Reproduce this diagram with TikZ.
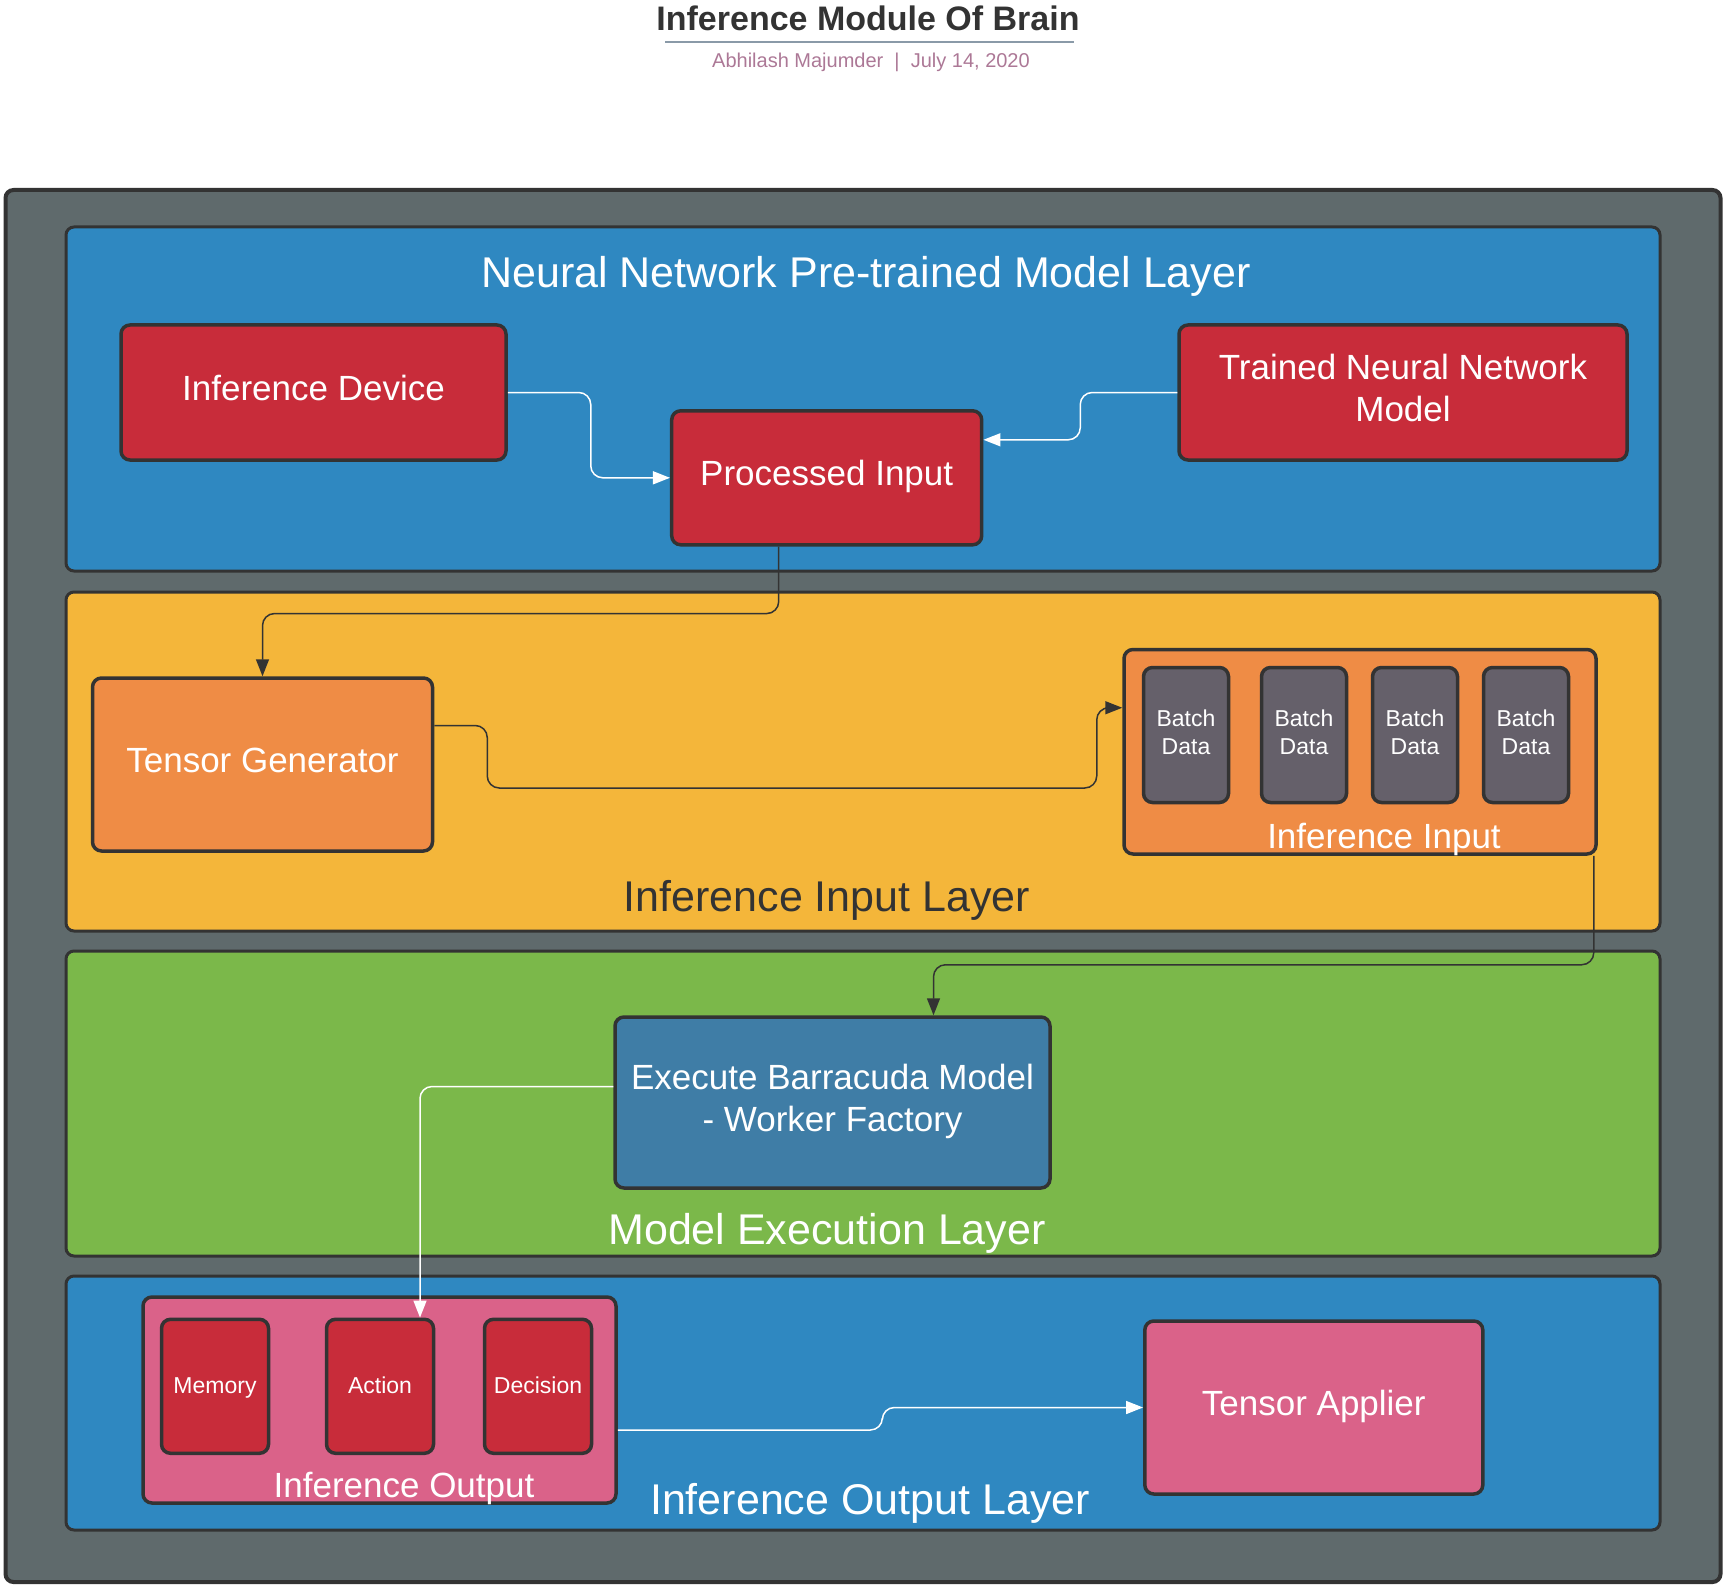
\documentclass[tikz,border=0pt]{standalone}
\usepackage{fontspec}
\setmainfont{Liberation Sans}
\usetikzlibrary{arrows.meta,positioning}

\definecolor{panelgray}{HTML}{5F6A6C}
\definecolor{edgegray}{HTML}{333333}
\definecolor{tierblue}{HTML}{2F88C1}
\definecolor{tieryellow}{HTML}{F4B63A}
\definecolor{tiergreen}{HTML}{7BB84A}
\definecolor{modred}{HTML}{C82C3A}
\definecolor{modpink}{HTML}{DA6289}
\definecolor{modorange}{HTML}{EF8C45}
\definecolor{batchgray}{HTML}{65606A}
\definecolor{execblue}{HTML}{3F7DA6}
\definecolor{subtitlec}{HTML}{AC7896}
\definecolor{rulec}{HTML}{8A9AA8}

\begin{document}
\begin{tikzpicture}[
    x=1pt, y=-1pt,
    node distance=113pt,
    tier/.style={draw=edgegray, line width=3pt, rounded corners=8pt, inner sep=0pt},
    tiertitle/.style={anchor=base, inner sep=0pt, font=\fontsize{43}{50}\selectfont},
    module/.style={draw=edgegray, line width=3.5pt, rounded corners=9pt, inner sep=0pt,
      text=white, align=center, text depth=9pt, font=\fontsize{35}{42}\selectfont},
    batch/.style={module, fill=batchgray, minimum width=85pt, minimum height=135pt,
      text depth=6pt, font=\fontsize{23}{28.6}\selectfont},
    outcell/.style={module, fill=modred, minimum width=107pt, minimum height=134pt,
      text depth=2pt, font=\fontsize{23}{28}\selectfont},
    flow/.style={-{Triangle[length=17pt,width=13pt]}, line width=1.5pt, rounded corners=12pt},
    whiteflow/.style={flow, draw=white},
    darkflow/.style={flow, draw=edgegray},
    ]
    \useasboundingbox (0,0) rectangle (1726,1586);

    % title block
    \node[anchor=base, inner sep=0pt, text=edgegray, font=\fontsize{34}{40}\selectfont\bfseries]
      (title) at (868,31) {Inference Module Of Brain};
    \draw[rulec, line width=1.5pt] (665,42) -- (1074,42);
    \node[anchor=base, inner sep=0pt, text=subtitlec, font=\fontsize{20}{24}\selectfont]
      (byline) at (871,68) {Abhilash Majumder\ \ |\ \ July 14, 2020};

    % frame and layers
    \node[tier, line width=4pt, fill=panelgray, minimum width=1715pt, minimum height=1392pt] (frame) at (863,886) {};
    \node[tier, fill=tierblue, minimum width=1594pt, minimum height=344pt] (nnlayer) at (863,399) {};
    \node[tier, fill=tieryellow, minimum width=1594pt, minimum height=339pt] (inlayer) at (863,761.5) {};
    \node[tier, fill=tiergreen, minimum width=1594pt, minimum height=305pt] (exlayer) at (863,1103.5) {};
    \node[tier, fill=tierblue, minimum width=1594pt, minimum height=254pt] (outlayer) at (863,1403) {};

    \node[tiertitle, text=white] (nntitle) at (866,288) {Neural Network Pre-trained Model Layer};
    \node[tiertitle, text=edgegray] (intitle) at (827,911) {Inference Input Layer};
    \node[tiertitle, text=white] (extitle) at (827,1244) {Model Execution Layer};
    \node[tiertitle, text=white] (outtitle) at (870,1514) {Inference Output Layer};

    % pre-trained model layer
    \node[module, fill=modred, minimum width=385pt, minimum height=135pt] (dev) at (313.5,392.5) {Inference Device};
    \node[module, fill=modred, minimum width=310pt, minimum height=134pt] (pi) at (826.7,477.8) {Processed Input};
    \node[module, fill=modred, minimum width=448pt, minimum height=135pt] (tnn) at (1403,392.5) {Trained Neural Network\\Model};

    % input layer
    \node[module, fill=modorange, minimum width=340pt, minimum height=173pt] (tg) at (262.5,764.5) {Tensor Generator};
    \node[module, fill=modorange, minimum width=472pt, minimum height=204.5pt] (ii) at (1360,751.75) {};
    \node[anchor=base, inner sep=0pt, text=white, font=\fontsize{35}{42}\selectfont] (iilabel) at (1384,848) {Inference Input};
    \node[batch] (b1) at (1186,735) {Batch\\Data};
    \node[batch, right of=b1, node distance=118pt] (b2) {Batch\\Data};
    \node[batch, right of=b2, node distance=111pt] (b3) {Batch\\Data};
    \node[batch, right of=b3, node distance=111pt] (b4) {Batch\\Data};

    % execution layer
    \node[module, fill=execblue, minimum width=435pt, minimum height=171pt] (ex) at (832.5,1102.5) {Execute Barracuda Model\\- Worker Factory};

    % output layer
    \node[module, fill=modpink, minimum width=473pt, minimum height=206pt] (io) at (379.5,1400) {};
    \node[anchor=base, inner sep=0pt, text=white, font=\fontsize{35}{42}\selectfont] (iolabel) at (404,1497) {Inference Output};
    \node[outcell] (mem) at (215,1386.3) {Memory};
    \node[outcell, right of=mem, node distance=165pt] (act) {Action};
    \node[outcell, right of=act, node distance=158pt] (dec) {Decision};
    \node[module, fill=modpink, minimum width=338pt, minimum height=173pt] (ta) at (1313.8,1407.5) {Tensor Applier};

    % connectors
    \draw[whiteflow] (dev.east) -- ++(83,0) |- (pi.west);
    \draw[whiteflow] (tnn.west) -- ++(-97,0) |- ([yshift=38pt]pi.east);
    \draw[darkflow] ([xshift=-48pt]pi.south) -- ++(0,67) -| (tg.north);
    \draw[darkflow] ([yshift=39pt]tg.east) -- ++(53,0) -- ++(0,62.5) -- ++(609.5,0) |- ([yshift=44pt]ii.west);
    \draw[darkflow] ([xshift=-4pt]ii.south east) -- ++(0,109) -| ([xshift=101pt]ex.north);
    \draw[whiteflow] ([yshift=16pt]ex.west) -| ([xshift=40pt]act.north);
    \draw[whiteflow] ([yshift=-30pt]io.east) -- ++(264.6,0) |- (ta.west);

  \end{tikzpicture}
\end{document}
